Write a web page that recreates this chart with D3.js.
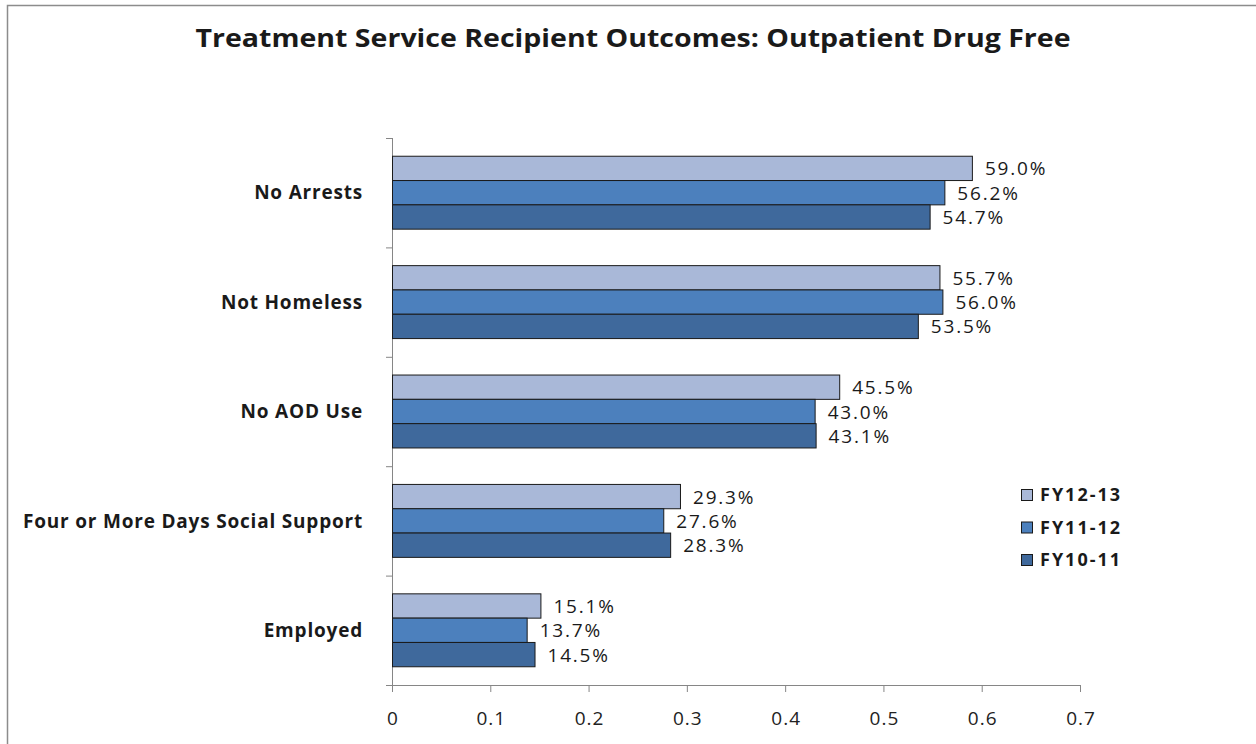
<!DOCTYPE html>
<meta charset="utf-8">
<style>
body { margin: 0; background: #fff; }
text { font-family: "Open Sans", "DejaVu Sans", sans-serif; fill: #1a1a1a; }
.axis path, .axis line { stroke: #868686; }
.bar { stroke: #1a1a1a; stroke-width: 1; }
</style>
<body>
<script src="https://cdn.jsdelivr.net/npm/d3@7"></script>
<script>
// categories top to bottom
var categories = ["No Arrests", "Not Homeless", "No AOD Use", "Four or More Days Social Support", "Employed"];
var seriesNames = ["FY12-13", "FY11-12", "FY10-11"];
var fy1213 = [0.590, 0.557, 0.455, 0.293, 0.151];
var fy1112 = [0.562, 0.560, 0.430, 0.276, 0.137];
var fy1011 = [0.547, 0.535, 0.431, 0.283, 0.145];
var xTicks = [0, 0.1, 0.2, 0.3, 0.4, 0.5, 0.6, 0.7];
var colors = ["#a9b8d8", "#4c80bd", "#3f699c"];

var seriesValues = [fy1213, fy1112, fy1011];

var W = 1256, H = 744;
var margin = {top: 138, left: 392, right: 176, bottom: 59};
var width = W - margin.left - margin.right,
    height = H - margin.top - margin.bottom;

var svg = d3.select("body").append("svg")
    .attr("width", W)
    .attr("height", H);

// outer chart frame
svg.append("rect")
    .attr("x", 7.5).attr("y", 5.5)
    .attr("width", 1260).attr("height", 760)
    .attr("fill", "none").attr("stroke", "#8c8c8c").attr("stroke-width", 1.5);

svg.append("text")
    .attr("x", 633).attr("y", 47)
    .attr("text-anchor", "middle")
    .style("font-size", "25px").style("font-weight", "bold")
    .attr("textLength", 875).attr("lengthAdjust", "spacingAndGlyphs")
    .text("Treatment Service Recipient Outcomes: Outpatient Drug Free");

var g = svg.append("g")
    .attr("transform", "translate(" + margin.left + "," + margin.top + ")");

var x = d3.scaleLinear().domain([0, 0.7]).range([0, width]);
var y = d3.scaleBand().domain(categories).range([0, height]);
var y1 = d3.scaleBand().domain(seriesNames)
    .range([0, y.bandwidth()]).paddingOuter(0.75).paddingInner(0);

// x axis
var xAxis = g.append("g")
    .attr("class", "axis")
    .attr("transform", "translate(0," + height + ")")
    .call(d3.axisBottom(x).tickValues(xTicks).tickSize(7).tickSizeOuter(0)
      .tickFormat(function(d) { return d === 0 ? "0" : d3.format(".1f")(d); }));
xAxis.select(".domain").attr("d", "M-6,0.5H" + width);
xAxis.selectAll("text")
    .style("font-size", "19px").style("letter-spacing", "1px")
    .attr("x", 0.5).attr("y", 40).attr("dy", 0).style("fill", "#222");

// y axis (ticks at band edges)
var yAxis = g.append("g").attr("class", "axis");
yAxis.append("line")
    .attr("x1", 0.5).attr("x2", 0.5).attr("y1", 0).attr("y2", height)
    .attr("stroke", "#868686");
yAxis.selectAll(".ytick")
    .data(categories.concat(["end"]))
    .enter().append("line")
    .attr("x1", -6).attr("x2", 0)
    .attr("y1", function(d, i) { return i * y.step() + 0.5; })
    .attr("y2", function(d, i) { return i * y.step() + 0.5; })
    .attr("stroke", "#868686");

g.selectAll(".catlabel")
    .data(categories)
    .enter().append("text")
    .attr("x", -29)
    .attr("y", function(d) { return y(d) + y.bandwidth() / 2; })
    .attr("dy", "0.35em")
    .attr("text-anchor", "end")
    .style("font-size", "19px").style("font-weight", "bold").style("letter-spacing", "0.8px")
    .text(function(d) { return d; });

seriesNames.forEach(function(s, si) {
  var vals = seriesValues[si];
  g.selectAll(".bar-" + si)
      .data(categories)
      .enter().append("rect")
      .attr("class", "bar")
      .attr("x", 0.5)
      .attr("y", function(d) { return y(d) + y1(s); })
      .attr("width", function(d, i) { return x(vals[i]); })
      .attr("height", y1.bandwidth())
      .attr("fill", colors[si]);

  g.selectAll(".lab-" + si)
      .data(categories)
      .enter().append("text")
      .attr("x", function(d, i) { return x(vals[i]) + 13; })
      .attr("y", function(d) { return y(d) + y1(s) + y1.bandwidth() / 2; })
      .attr("dy", "0.37em")
      .style("font-size", "19px").style("letter-spacing", "1.8px")
      .text(function(d, i) { return d3.format(".1%")(vals[i]); });
});

// legend
var legend = svg.append("g").attr("transform", "translate(1021,489)");
seriesNames.forEach(function(s, i) {
  var row = legend.append("g").attr("transform", "translate(0," + (i * 32.5) + ")");
  row.append("rect")
      .attr("x", 0.5).attr("y", 0.5).attr("width", 11).attr("height", 11)
      .attr("fill", colors[i]).attr("stroke", "#1a1a1a");
  row.append("text")
      .attr("x", 19).attr("y", 6).attr("dy", "0.36em")
      .style("font-size", "18px").style("font-weight", "bold").style("letter-spacing", "2px")
      .text(s);
});
</script>
</body>
